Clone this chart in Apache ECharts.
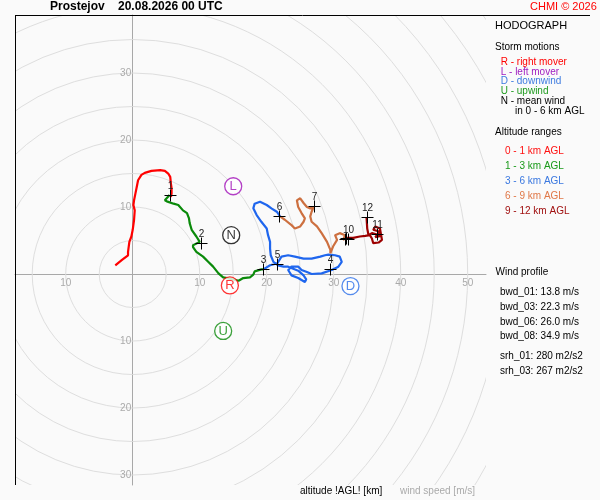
<!DOCTYPE html>
<html>
<head>
<meta charset="utf-8">
<title>Hodograph</title>
<script src="https://cdn.jsdelivr.net/npm/echarts@6/dist/echarts.min.js"></script>
<style>
	html, body { margin: 0; padding: 0; background: #fafafa; }
	#main { width: 600px; height: 500px; }
</style>
</head>
<body>
<div id="main"></div>
<script>
// hodograph trace, u/v in m/s, split by altitude range
var seg01 = [[-2.6,1.3],[-1.6,2.1],[-0.7,2.8],[-0.7,3.3],[-0.5,4.8],[-0.2,5.6],[0.0,6.6],[0.2,8.1],[0.3,9.5],[0.1,10.3],[0.2,11.0],[0.4,12.0],[0.6,13.0],[0.8,14.0],[1.3,14.8],[1.8,15.1],[2.8,15.4],[4.1,15.5],[4.8,15.4],[5.3,15.0],[5.6,14.5],[5.7,13.5],[5.8,12.8],[5.8,12.0],[5.7,11.5]];
var seg13 = [[5.5,11.8],[4.8,11.0],[5.2,10.8],[6.1,10.5],[6.8,10.3],[7.5,9.5],[8.1,9.1],[8.4,8.3],[8.5,7.6],[8.8,6.6],[9.5,5.6],[10.0,4.8],[10.2,4.6],[9.0,4.3],[9.0,4.0],[9.5,3.3],[10.5,2.6],[11.3,1.8],[12.0,1.1],[12.8,0.1],[13.5,-0.5],[15.0,-0.8],[15.8,-1.0],[16.5,-0.6],[17.5,-0.5],[18.0,-0.1],[18.2,0.4],[19.2,0.7],[19.5,0.7]];
var seg36 = [[19.5,0.7],[20.5,1.3],[21.6,1.6],[22.2,2.6],[23.2,2.8],[24.2,2.6],[25.5,2.3],[26.7,2.3],[28.0,2.6],[28.7,2.8],[29.2,2.9],[30.2,2.8],[30.9,2.6],[31.2,1.8],[30.7,1.1],[29.7,0.6],[28.2,0.1],[26.7,0.0],[26.0,0.3],[25.2,0.6],[24.7,1.1],[23.7,1.1],[23.2,0.6],[23.7,-0.2],[24.7,-0.6],[25.7,-1.2],[25.9,-0.8],[25.5,-0.2],[24.7,0.5],[23.2,1.1],[22.5,1.1],[21.7,1.3],[21.0,1.8],[20.6,2.8],[20.5,3.8],[20.5,4.8],[20.2,5.8],[20.0,6.8],[19.2,7.8],[18.5,8.8],[18.0,9.8],[18.2,10.5],[19.0,10.8],[20.0,10.3],[20.7,9.8],[21.5,9.3],[22.0,8.6]];
var seg69 = [[22.0,8.6],[22.7,8.1],[23.7,7.3],[24.2,6.8],[25.0,7.1],[25.5,7.8],[25.7,8.3],[25.2,9.1],[24.7,10.0],[24.5,11.0],[25.0,11.3],[25.5,10.6],[26.0,10.0],[26.5,9.8],[27.0,10.0],[26.7,9.3],[26.5,8.6],[26.7,7.8],[27.5,7.1],[28.2,6.1],[29.0,4.8],[29.5,3.6],[29.5,3.1],[29.9,4.1],[30.5,5.1],[30.2,5.8],[30.9,6.1],[31.7,5.8],[31.4,5.1],[31.9,5.4]];
var seg912 = [[31.9,5.4],[32.1,5.3],[32.9,5.4],[33.9,5.6],[34.7,5.7],[35.4,5.8],[35.7,5.3],[35.9,4.6],[36.7,4.7],[37.2,5.1],[36.9,6.8],[36.2,7.1],[35.9,6.6],[36.9,6.3],[36.2,5.5],[37.0,5.7],[36.5,5.9],[35.7,6.1],[35.2,5.8],[35.0,6.8],[34.9,8.5]];
var segColors = ['#ff0000', '#0a8a0a', '#1f66ee', '#cd7040', '#9c0000'];

// km marks
var heightPoints = [[5.5,11.8],[10.2,4.6],[19.5,0.7],[29.5,0.7],[21.6,1.5],[21.9,8.6],[27.0,10.1],[31.7,5.3],[31.9,5.4],[32.1,5.3],[36.5,5.9],[34.9,8.5]];
var heightLabels = ['1','2','3','4','5','6','7','','','10','11','12'];

// storm motions
var stormPoints = [[14.5,-1.7],[15.0,13.1],[32.5,-1.8],[13.5,-8.5],[14.7,5.8]];
var stormLetters = ['R','L','D','U','N'];
var stormColors = ['#ff0000','#a010b8','#2a6ee8','#0a8a0a','#000000'];

var ringRadii = [5,10,15,20,25,30,35,40,45,50,55,60,65,70];
var xTicks = [-10,10,20,30,40,50];
var yTicks = [-30,-20,-10,10,20,30];

var legendStorm = ['R - right mover','L - left mover','D - downwind','U - upwind','N - mean wind'];
var legendStormColors = ['#ff0000','#a020c0','#3d7be0','#1e9a1e','#000000'];
var legendAlt = ['0 - 1 km AGL','1 - 3 km AGL','3 - 6 km AGL','6 - 9 km AGL','9 - 12 km AGL'];
var legendAltColors = ['#ff1010','#1a9a1a','#3a78e0','#e07848','#a01010'];
var windProfile = ['bwd_01: 13.8 m/s','bwd_03: 22.3 m/s','bwd_06: 26.0 m/s','bwd_08: 34.9 m/s'];
var helicity = ['srh_01: 280 m2/s2','srh_03: 267 m2/s2'];

var FONT = '"Liberation Sans", Arial, sans-serif';

function txt(x, y, s, color, size, weight) {
	return {
		type: 'text', x: x, y: y, z: 10,
		style: {
			text: s, fill: color || '#000',
			font: (weight || 'normal') + ' ' + (size || 10) + 'px ' + FONT,
			verticalAlign: 'middle'
		}
	};
}

var chart = echarts.init(document.getElementById('main'));

var graphics = [
	{type: 'line', z: 10, shape: {x1: 15, y1: 15.5, x2: 590, y2: 15.5}, style: {stroke: '#000', lineWidth: 1}},
	{type: 'line', z: 10, shape: {x1: 15.5, y1: 15, x2: 15.5, y2: 485}, style: {stroke: '#000', lineWidth: 1}},
	txt(50, 7, 'Prostejov    20.08.2026 00 UTC', '#000', 12, 'bold'),
	txt(530, 7, 'CHMI \u00a9 2026', '#ff0000', 11),
	txt(495, 26, 'HODOGRAPH', '#000', 11),
	txt(495, 47, 'Storm motions'),
	txt(515, 111.3, 'in 0 - 6 km AGL'),
	txt(495, 132, 'Altitude ranges'),
	txt(495.5, 272.3, 'Wind profile'),
	txt(300, 491.7, 'altitude !AGL! [km]'),
	txt(400, 491.7, 'wind speed [m/s]', '#aaaaaa')
];
legendStorm.forEach(function (s, i) {
	graphics.push(txt(500.7, 62 + i * 9.8, s, legendStormColors[i]));
});
legendAlt.forEach(function (s, i) {
	graphics.push(txt(505, 151.7 + i * 15, s, legendAltColors[i]));
});
windProfile.forEach(function (s, i) {
	graphics.push(txt(500, 292.3 + i * 14.8, s));
});
helicity.forEach(function (s, i) {
	graphics.push(txt(500, 356.7 + i * 14.6, s));
});

var series = [
	{
		// speed rings, clipped to the plot box
		type: 'custom', silent: true, z: 1,
		data: [0],
		renderItem: function (params, api) {
			var c = api.coord([0, 0]);
			var cs = params.coordSys;
			var rings = ringRadii.map(function (r) {
				return {
					type: 'circle',
					shape: {cx: c[0], cy: c[1], r: api.size([r, 0])[0]},
					style: {fill: 'none', stroke: '#dedede', lineWidth: 1}
				};
			});
			return {
				type: 'group',
				children: rings,
				clipPath: {type: 'rect', shape: {x: cs.x, y: cs.y, width: cs.width, height: cs.height}}
			};
		}
	},
	{
		// tick labels sitting on the zero lines
		type: 'custom', silent: true, z: 2,
		data: [0],
		renderItem: function (params, api) {
			var kids = [];
			xTicks.forEach(function (v) {
				var p = api.coord([v, 0]);
				kids.push({type: 'text', x: p[0], y: p[1] + 9, style: {
					text: String(Math.abs(v)), fill: '#aaaaaa', font: '10px ' + FONT,
					align: 'center', verticalAlign: 'middle'
				}});
			});
			yTicks.forEach(function (v) {
				var p = api.coord([0, v]);
				kids.push({type: 'text', x: p[0] - 1.5, y: p[1], style: {
					text: String(Math.abs(v)), fill: '#aaaaaa', font: '10px ' + FONT,
					align: 'right', verticalAlign: 'middle'
				}});
			});
			return {type: 'group', children: kids};
		}
	}
];

[seg01, seg13, seg36, seg69, seg912].forEach(function (seg, i) {
	series.push({
		type: 'line', data: seg, showSymbol: false, silent: true, z: 3,
		lineStyle: {color: segColors[i], width: 2.2},
		clip: true
	});
});

series.push({
	type: 'custom', silent: true, z: 5,
	data: heightPoints,
	renderItem: function (params, api) {
		var p = api.coord([api.value(0), api.value(1)]);
		var x = Math.round(p[0]) + 0.5, y = Math.round(p[1]) + 0.5;
		return {
			type: 'group',
			children: [
				{type: 'line', shape: {x1: x - 6, y1: y, x2: x + 6, y2: y}, style: {stroke: '#000', lineWidth: 1}},
				{type: 'line', shape: {x1: x, y1: y - 6, x2: x, y2: y + 6}, style: {stroke: '#000', lineWidth: 1}},
				{type: 'text', x: x, y: y - 9, style: {
					text: heightLabels[params.dataIndex], fill: '#222',
					font: '10px ' + FONT, align: 'center', verticalAlign: 'middle'
				}}
			]
		};
	}
});

series.push({
	type: 'scatter', z: 6, silent: true,
	symbol: 'circle', symbolSize: 17,
	data: stormPoints.map(function (p, i) {
		return {
			value: p,
			itemStyle: {color: '#ffffff', borderColor: stormColors[i], borderWidth: 1.3},
			label: {color: stormColors[i]}
		};
	}),
	label: {
		show: true, position: 'inside', fontSize: 13, fontFamily: FONT,
		formatter: function (p) { return stormLetters[p.dataIndex]; }
	}
});

var axisCommon = {
	type: 'value',
	axisLine: {onZero: true, lineStyle: {color: '#a8a8a8', width: 1}},
	axisTick: {show: false},
	axisLabel: {show: false},
	splitLine: {show: false}
};

chart.setOption({
	backgroundColor: '#fafafa',
	animation: false,
	grid: {left: 15, top: 15, right: 114, bottom: 15},
	xAxis: Object.assign({}, axisCommon, {min: -17.57, max: 52.73}),
	yAxis: Object.assign({}, axisCommon, {min: -31.49, max: 38.66}),
	graphic: graphics,
	series: series
});
</script>
</body>
</html>
